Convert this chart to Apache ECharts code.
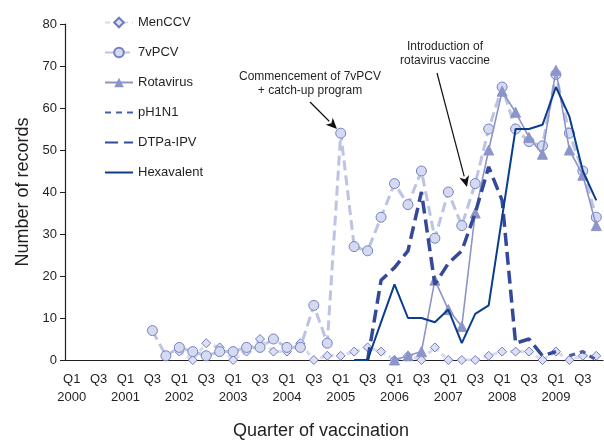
<!DOCTYPE html>
<html>
<head>
<meta charset="utf-8">
<script src="https://cdn.jsdelivr.net/npm/echarts@6/dist/echarts.min.js"></script>
<style>
html,body{margin:0;padding:0;background:#fff;}
#c{width:604px;height:440px;}
</style>
</head>
<body>
<div id="c"></div>
<script>
// ---- Data ----
const years = ['2000','2001','2002','2003','2004','2005','2006','2007','2008','2009'];
const quarters = ['Q1','Q2','Q3','Q4'];
const categories = [];
years.forEach(y => quarters.forEach(q => categories.push(q + ' ' + y)));

const N = null;
const menCCV = [N,N,N,N,N,N,N,N, 2,0,4,3, 0,2,5,2, 2,4,0,1, 1,2,3,2, 0,1,0,3, 0,0,0,1, 2,2,2,0, 2,0,1,1];
const pcv7 = [N,N,N,N,N,N,7,1, 3,2,1,2, 2,3,3,5, 3,3,13,4, 54,27,26,34, 42,37,45,29, 40,32,42,55, 65,55,52,51, 68,54,45,34];
const rotavirus = [N,N,N,N,N,N,N,N, N,N,N,N, N,N,N,N, N,N,N,N, N,N,N,N, 0,1,2,19, 12,8,35,50, 64,59,53,49, 69,50,44,32];
const pH1N1 = [N,N,N,N,N,N,N,N, N,N,N,N, N,N,N,N, N,N,N,N, N,N,N,N, N,N,N,N, N,N,N,N, N,N,N,N, N,1,2,0];
const dtpaIPV = [N,N,N,N,N,N,N,N, N,N,N,N, N,N,N,N, N,N,N,N, N,N,0,19, 22,26,40,18, 23,26,35,46, 38,4,5,1, 2,N,N,N];
const hexavalent = [N,N,N,N,N,N,N,N, N,N,N,N, N,N,N,N, N,N,N,N, N,0,0,9, 18,10,10,9, 12,4,11,13, 34,55,55,56, 65,58,45,38];

const yTicks = {min:0, max:80, interval:10};

const FONT = 'Liberation Sans, Arial, sans-serif';
const TXT = '#231f20';

const chart = echarts.init(document.getElementById('c'), null, {renderer:'canvas'});

function arrow(x1,y1,x2,y2){
  const dx=x2-x1, dy=y2-y1, L=Math.sqrt(dx*dx+dy*dy);
  const ux=dx/L, uy=dy/L, hl=11, hw=5;
  const bx=x2-ux*hl, by=y2-uy*hl;
  return [
    {type:'line', shape:{x1:x1,y1:y1,x2:bx,y2:by}, style:{stroke:'#111', lineWidth:1.2}},
    {type:'polygon', shape:{points:[[x2,y2],[bx-uy*hw,by+ux*hw],[bx+ux*3,by+uy*3],[bx+uy*hw,by-ux*hw]]}, style:{fill:'#111'}}
  ];
}

const option = {
  animation:false,
  textStyle:{fontFamily:FONT},
  grid:{left:65, right:1, top:24, bottom:80, containLabel:false, outerBoundsMode:'none'},
  legend:{
    orient:'vertical', left:99, top:11, itemWidth:28, itemHeight:12, itemGap:17,
    textStyle:{fontFamily:FONT, fontSize:13, color:TXT},
    data:[
      {name:'MenCCV'},
      {name:'7vPCV'},
      {name:'Rotavirus'},
      {name:'pH1N1', itemStyle:{opacity:0}},
      {name:'DTPa-IPV', itemStyle:{opacity:0}},
      {name:'Hexavalent', itemStyle:{opacity:0}}
    ]
  },
  xAxis:{
    type:'category', data:categories, boundaryGap:true,
    name:'Quarter of vaccination', nameLocation:'middle', nameGap:62,
    nameTextStyle:{fontFamily:FONT, fontSize:18, color:TXT, padding:[0,26,0,0]},
    axisLine:{lineStyle:{color:'#231f20', width:1.2}},
    axisTick:{interval:0, length:5, lineStyle:{color:'#231f20'}},
    axisLabel:{
      interval:1, margin:10, fontSize:13, color:TXT, fontFamily:FONT, lineHeight:18,
      formatter:function(v){ const p=v.split(' '); return p[0]==='Q1' ? p[0]+'\n'+p[1] : p[0]; }
    },
    splitLine:{show:false}
  },
  yAxis:{
    type:'value', min:yTicks.min, max:yTicks.max, interval:yTicks.interval,
    name:'Number of records', nameLocation:'middle', nameGap:33,
    nameTextStyle:{fontFamily:FONT, fontSize:18, color:TXT},
    axisLine:{show:true, lineStyle:{color:'#231f20', width:1.2}},
    axisTick:{show:true, length:5, lineStyle:{color:'#231f20'}},
    axisLabel:{fontSize:13, color:TXT, fontFamily:FONT, margin:8},
    splitLine:{show:false}
  },
  series:[
    {name:'MenCCV', type:'line', data:menCCV, symbol:'diamond', symbolSize:9, showAllSymbol:true, z:3,
     lineStyle:{color:'#d6daef', width:3, type:[5,4]},
     itemStyle:{color:'#dde0f2', borderColor:'#6f7bbf', borderWidth:1}},
    {name:'7vPCV', type:'line', data:pcv7, symbol:'circle', symbolSize:10, showAllSymbol:true, z:4,
     lineStyle:{color:'#bcc3e3', width:3, type:[10,5]},
     itemStyle:{color:'#d5daf0', borderColor:'#7380c0', borderWidth:1}},
    {name:'Rotavirus', type:'line', data:rotavirus, symbol:'triangle', symbolSize:10, showAllSymbol:true, z:5,
     lineStyle:{color:'#8d94c9', width:1.6, type:'solid'},
     itemStyle:{color:'#8d94c9', borderColor:'#8d94c9'}},
    {name:'pH1N1', type:'line', data:pH1N1, symbol:'none', z:6,
     lineStyle:{color:'#4a5ea8', width:3.2, type:[6,5]},
     itemStyle:{color:'#4a5ea8'}},
    {name:'DTPa-IPV', type:'line', data:dtpaIPV, symbol:'none', z:6,
     lineStyle:{color:'#34499a', width:3.5, type:[13,6]},
     itemStyle:{color:'#34499a'}},
    {name:'Hexavalent', type:'line', data:hexavalent, symbol:'none', z:7,
     lineStyle:{color:'#0b3d8c', width:2, type:'solid'},
     itemStyle:{color:'#0b3d8c'}}
  ],
  graphic:[
    {type:'text', x:310, y:70, style:{text:'Commencement of 7vPCV\n+ catch-up program', font:'12px '+FONT, fill:TXT, align:'center', lineHeight:14}},
    {type:'text', x:445, y:40, style:{text:'Introduction of\nrotavirus vaccine', font:'12px '+FONT, fill:TXT, align:'center', lineHeight:14}}
  ].concat(arrow(310,102,337,129)).concat(arrow(437,73,467,187))
};
chart.setOption(option);
</script>
</body>
</html>
